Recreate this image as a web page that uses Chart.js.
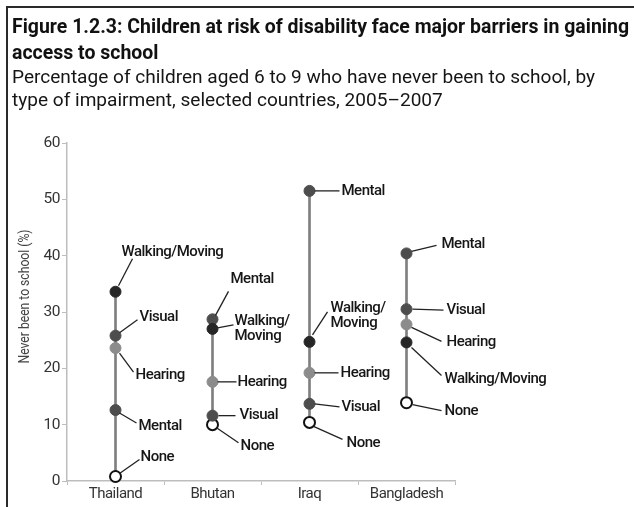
<!DOCTYPE html>
<html>
<head>
<meta charset="utf-8">
<script src="https://cdn.jsdelivr.net/npm/chart.js@4"></script>
<style>
  html, body { margin: 0; padding: 0; background: #fff; }
  canvas { display: block; }
</style>
</head>
<body>
<canvas id="chart" width="634" height="507"></canvas>
<script>
// Never been to school (%), children aged 6-9, by type of impairment
const countries = ['Thailand', 'Bhutan', 'Iraq', 'Bangladesh'];
const walkingMoving = [33.6, 27.0, 24.7, 24.6];
const visual = [25.8, 11.6, 13.7, 30.5];
const hearing = [23.6, 17.6, 19.2, 27.8];
const mental = [12.6, 28.7, 51.5, 40.4];
const none = [0.8, 10.0, 10.4, 13.9];
const yMin = 0, yMax = 60, yStep = 10;

const titleLines = [
  'Figure 1.2.3: Children at risk of disability face major barriers in gaining',
  'access to school'
];
const subtitleLines = [
  'Percentage of children aged 6 to 9 who have never been to school, by',
  'type of impairment, selected countries, 2005\u20132007'
];
const yTitle = 'Never been to school (%)';

const series = [
  { name: 'Walking/Moving', values: walkingMoving, fill: '#262626', stroke: '#262626' },
  { name: 'Visual', values: visual, fill: '#4d4d4d', stroke: '#4d4d4d' },
  { name: 'Hearing', values: hearing, fill: '#8c8c8c', stroke: '#8c8c8c' },
  { name: 'Mental', values: mental, fill: '#4d4d4d', stroke: '#4d4d4d' },
  { name: 'None', values: none, fill: '#ffffff', stroke: '#111111' }
];

// label placement around each dot: text left/centre offset and leader line ends (px)
const callouts = {
  Thailand: {
    'Walking/Moving': { tx: 6, ty: -39, from: [3, -6], to: [17, -33] },
    'Visual': { tx: 24, ty: -18, from: [4, -3], to: [22, -16] },
    'Hearing': { tx: 20, ty: 27, from: [4, 5], to: [18, 24] },
    'Mental': { tx: 23, ty: 16, from: [4, 3], to: [21, 13] },
    'None': { tx: 25, ty: -19, from: [4, -3], to: [24, -17] }
  },
  Bhutan: {
    'Mental': { tx: 18, ty: -40, from: [3, -4], to: [16, -28] },
    'Walking/Moving': { tx: 22, ty: 0, lines: ['Walking/', 'Moving'], from: [5, -1], to: [21, -4] },
    'Hearing': { tx: 25, ty: 0, from: [5, 0], to: [24, 0] },
    'Visual': { tx: 27, ty: 0, from: [6, 0], to: [23, 0] },
    'None': { tx: 28, ty: 22, from: [4, 3], to: [26, 18] }
  },
  Iraq: {
    'Mental': { tx: 32, ty: 0, from: [5, 0], to: [30, 0] },
    'Walking/Moving': { tx: 21, ty: -26, lines: ['Walking/', 'Moving'], from: [3, -7], to: [18, -30] },
    'Hearing': { tx: 31, ty: 0, from: [5, 0], to: [29, 0] },
    'Visual': { tx: 32, ty: 3, from: [5, 0], to: [30, 3] },
    'None': { tx: 37, ty: 21, from: [4, 4], to: [33, 17] }
  },
  Bangladesh: {
    'Mental': { tx: 35, ty: -9, from: [5, -2], to: [30, -8] },
    'Visual': { tx: 40, ty: 1, from: [6, 0], to: [37, 1] },
    'Hearing': { tx: 40, ty: 18, from: [5, 3], to: [35, 17] },
    'Walking/Moving': { tx: 38, ty: 37, from: [5, 5], to: [35, 33] },
    'None': { tx: 38, ty: 9, from: [6, 2], to: [35, 8] }
  }
};

// vertical range line per country, lowest to highest value
const ranges = countries.map((c, i) => {
  const vals = series.map(s => s.values[i]);
  return [Math.min(...vals), Math.max(...vals)];
});

function fitText(ctx, text, x, y, width) {
  const w = ctx.measureText(text).width;
  ctx.save();
  ctx.translate(x, y);
  ctx.scale(width / w, 1);
  ctx.fillText(text, 0, 0);
  ctx.restore();
}

const headings = {
  id: 'headings',
  beforeDraw(chart) {
    // tighter tracking for all chart text
    chart.ctx.letterSpacing = '-0.5px';
  },
  afterDraw(chart) {
    const ctx = chart.ctx;
    ctx.save();
    ctx.letterSpacing = '0px';
    // frame on top and left
    ctx.strokeStyle = '#2a2a2a';
    ctx.lineWidth = 2;
    ctx.beginPath();
    ctx.moveTo(7, 512);
    ctx.lineTo(7, 7);
    ctx.lineTo(640, 7);
    ctx.stroke();

    ctx.fillStyle = '#111';
    ctx.textBaseline = 'alphabetic';
    ctx.textAlign = 'left';
    ctx.font = 'bold 20px Roboto';
    const tScale = 617 / ctx.measureText(titleLines[0]).width;
    titleLines.forEach((t, i) => {
      const w = ctx.measureText(t).width * tScale;
      fitText(ctx, t, 12, 33 + i * 26, w);
    });
    ctx.fillStyle = '#151515';
    ctx.font = '18.5px Roboto';
    const sScale = 583 / ctx.measureText(subtitleLines[0]).width;
    subtitleLines.forEach((t, i) => {
      const w = ctx.measureText(t).width * sScale;
      fitText(ctx, t, 12, 83 + i * 23, w);
    });

    // y axis title
    ctx.fillStyle = '#444';
    ctx.font = '15.5px Roboto';
    ctx.textBaseline = 'middle';
    ctx.translate(25, 297);
    ctx.rotate(-Math.PI / 2);
    fitText(ctx, yTitle, -66.5, 0, 134);
    ctx.restore();
  }
};

const callout = {
  id: 'callout',
  afterDatasetsDraw(chart) {
    const ctx = chart.ctx;
    ctx.save();
    ctx.strokeStyle = '#222';
    ctx.lineWidth = 1.3;
    ctx.fillStyle = '#161616';
    ctx.font = '500 15px Roboto';
    ctx.letterSpacing = '-0.5px';
    ctx.textAlign = 'left';
    ctx.textBaseline = 'middle';
    series.forEach((s, si) => {
      const meta = chart.getDatasetMeta(si + 1);
      countries.forEach((c, ci) => {
        const pt = meta.data[ci];
        const cfg = callouts[c][s.name];
        if (!pt || !cfg) return;
        ctx.beginPath();
        ctx.moveTo(pt.x + cfg.from[0], pt.y + cfg.from[1]);
        ctx.lineTo(pt.x + cfg.to[0], pt.y + cfg.to[1]);
        ctx.stroke();
        const lines = cfg.lines || [s.name];
        const lh = 15;
        const top = pt.y + cfg.ty - (lines.length - 1) * lh / 2;
        lines.forEach((l, li) => ctx.fillText(l, pt.x + cfg.tx, top + li * lh));
      });
    });
    ctx.restore();
  }
};

const datasets = [{
  type: 'bar',
  data: ranges,
  backgroundColor: '#7f7f7f',
  borderWidth: 0,
  barThickness: 2,
  order: 10
}].concat(series.map(s => ({
  type: 'line',
  label: s.name,
  data: s.values,
  showLine: false,
  pointRadius: 5.5,
  pointHoverRadius: 5.5,
  pointBackgroundColor: s.fill,
  pointBorderColor: s.stroke,
  pointBorderWidth: s.name === 'None' ? 2 : 1,
  clip: false,
  order: 1
})));

new Chart(document.getElementById('chart'), {
  type: 'bar',
  data: { labels: countries, datasets: datasets },
  plugins: [callout, headings],
  options: {
    responsive: false,
    animation: false,
    layout: { padding: { top: 143, right: 179, bottom: 0, left: 0 } },
    plugins: {
      legend: { display: false },
      tooltip: { enabled: false }
    },
    scales: {
      x: {
        offset: true,
        grid: { display: true, drawOnChartArea: false, offset: true, color: '#bdbdbd', tickLength: 4 },
        border: { color: '#bdbdbd', width: 1.5 },
        ticks: { color: '#333', font: { family: 'Roboto', size: 15 }, padding: 0 },
        afterFit(scale) { scale.height = 26; }
      },
      y: {
        min: yMin,
        max: yMax,
        grid: { drawOnChartArea: false, color: '#bdbdbd', tickLength: 5 },
        border: { color: '#bdbdbd', width: 1.5 },
        ticks: { stepSize: yStep, color: '#333', font: { family: 'Roboto', size: 15.5 }, padding: 2 },
        afterFit(scale) { scale.width = 67; }
      }
    }
  }
});
</script>
</body>
</html>
